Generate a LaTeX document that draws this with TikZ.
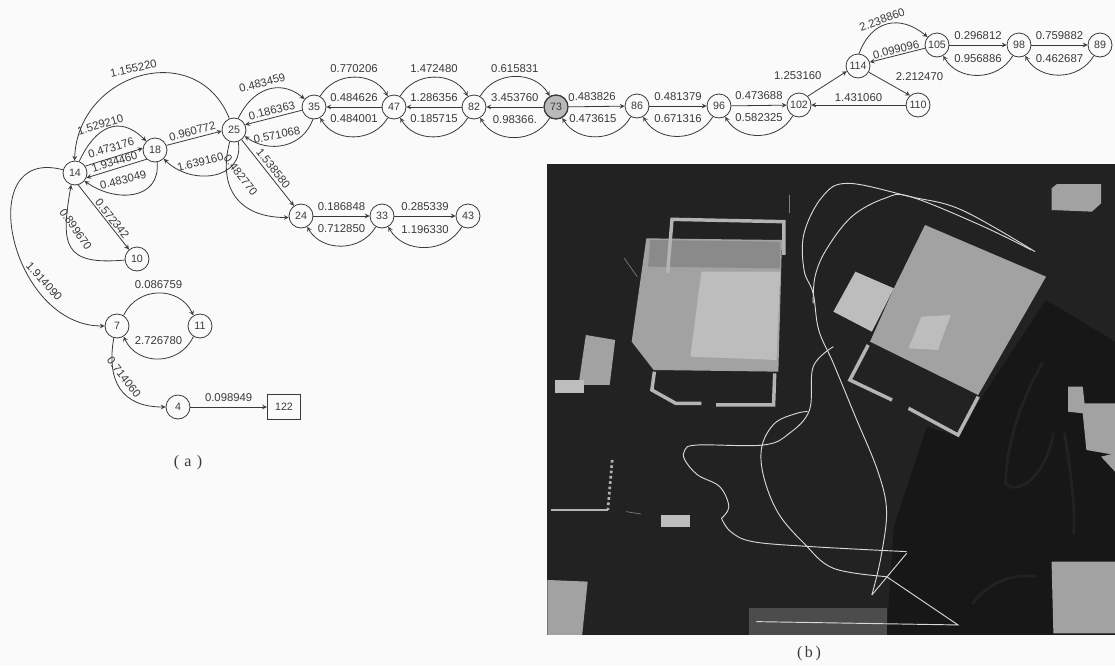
\documentclass[tikz,border=0pt]{standalone}
\usepackage{fontspec}
\usetikzlibrary{positioning}
\setmainfont{Liberation Sans}
\newfontfamily\capfont{Liberation Serif}
\definecolor{paper}{HTML}{FAFAFA}
\definecolor{ink}{HTML}{3A3A3A}
\definecolor{ground}{HTML}{222222}
\definecolor{darkzone}{HTML}{171717}
\definecolor{roof}{HTML}{A2A2A2}
\definecolor{roofhi}{HTML}{BDBDBD}
\definecolor{wallc}{HTML}{B4B4B4}
\definecolor{track}{HTML}{D8D8D8}
\begin{document}
\begin{tikzpicture}[
  x=0.75pt, y=0.75pt,
  v/.style={circle, draw=ink, fill=paper, line width=0.6pt, minimum size=18pt, inner sep=0pt, text=ink, font=\fontsize{8}{9}\selectfont},
  vbox/.style={rectangle, draw=ink, fill=paper, line width=0.6pt, minimum width=25pt, minimum height=19pt, inner sep=0pt, text=ink, font=\fontsize{8}{9}\selectfont},
  e/.style={draw=ink, line width=0.6pt, -stealth},
  lab/.style={text=ink, font=\fontsize{8.5}{9}\selectfont, inner sep=1pt},
  over/.style={lab, sloped, above},
  capt/.style={text=ink, font=\capfont\fontsize{12}{13}\selectfont, inner sep=0pt},
  block/.style={fill=roof, draw=none},
  wall/.style={draw=wallc, line width=2.6pt, line join=miter},
  path2/.style={draw=track, line width=0.7pt, smooth, tension=0.6},
  scratch/.style={draw=gray, line width=0.5pt}
]
  \useasboundingbox (0,0) rectangle (1115,-665);
  \fill[paper] (0,0) rectangle (1115,-665);

  % Graph, left part
  \node[v] (n14) at (75,-173) {14};
  \node[v] (n18) at (155,-150) {18};
  \node[v] (n25) at (234,-130) {25};
  \node[v] (n35) at (314,-107) {35};
  \node[v] (n47) at (394,-107) {47};
  \node[v] (n82) at (474,-107) {82};
  \node[v, fill=gray!55, line width=1pt] (n73) at (556,-107) {73};
  \node[v] (n86) at (637,-106) {86};
  \node[v] (n96) at (719,-106) {96};
  \node[v] (n102) at (799,-105) {102};
  \node[v] (n110) at (918,-105) {110};
  \node[v] (n114) at (858,-66) {114};
  \node[v] (n105) at (937,-45) {105};
  \node[v] (n98) at (1019,-45) {98};
  \node[v] (n89) at (1100,-45) {89};
  \node[v] (n24) at (301,-216) {24};
  \node[v] (n33) at (382,-216) {33};
  \node[v] (n43) at (468,-216) {43};
  \node[v] (n10) at (137,-259) {10};
  \node[v] (n7) at (117,-326) {7};
  \node[v] (n11) at (200,-326) {11};
  \node[v] (n4) at (178,-407) {4};
  \node[vbox] (n122) at (284,-407) {122};

  \draw[e] (n25.112) to[out=112,in=88,looseness=1.4] node[lab, pos=.53, rotate=12, above=3pt] (w1) {1.155220} (n14.92);
  \draw[e] (n14.70) to[out=65,in=135,looseness=1.4] node[lab, pos=.4, rotate=17, above=1pt] (w2) {1.529210} (n18.135);
  \draw[e] (n14.34) -- node[over, above=3pt] (w3) {0.473176} (n18.172);
  \draw[e] (n18.228) -- node[over, above=1pt] (w4) {1.934460} (n14.-23);
  \draw[e] (n18.-80) to[out=-85,in=-35,looseness=1.3] node[lab, pos=.6, rotate=14, above=7pt] (w5) {0.483049} (n14.-40);
  \draw[e] (n18.22) -- node[over, above=1pt] (w6) {0.960772} (n25.185);
  \draw[e] (n25.-70) to[out=-80,in=-45,looseness=1.3] node[lab, pos=.62, rotate=14, above=6pt] (w7) {1.639160} (n18.-45);
  \draw[e] (n25.70) to[out=65,in=140,looseness=1.2] node[lab, pos=.45, rotate=15, above=2pt] (w8) {0.483459} (n35.140);
  \draw[e] (n35.195) -- node[over, above=1pt] (w9) {0.186363} (n25.25);
  \draw[e] (n35.-95) to[out=-110,in=-35,looseness=1.1] node[lab, pos=.58, rotate=12, above=4pt] (w10) {0.571068} (n25.-30);
  \draw[e] (n25.-52) -- node[over, above=1pt] (w11) {1.538580} (n24.125);
  \draw[e] (n25.-110) to[out=-105,in=180,looseness=1.3] node[lab, pos=.5, rotate=-52, above=14pt] (w12) {0.482770} (n24.187);
  \draw[e] (n14.-75) -- node[over, pos=.58] (w13) {0.572342} (n10.130);
  \draw[e] (n10.185) to[out=185,in=-100,looseness=1.7] node[lab, pos=.5, rotate=-55, above=11pt] (w14) {0.899670} (n14.-108);
  \draw[e] (n14.165) to[out=165,in=180,looseness=1.5] node[lab, pos=.72, rotate=-48, above=5pt] (w15) {1.914090} (n7.180);
  \draw[e] (n7.58) to[bend left=65, looseness=1.2] node[over, above=2pt] (w16) {0.086759} (n11.122);
  \draw[e] (n11.-122) to[bend left=65, looseness=1.2] node[over, above=9pt] (w17) {2.726780} (n7.-58);
  \draw[e] (n7.-105) to[out=-100,in=180,looseness=1.3] node[lab, pos=.48, rotate=-52, above=5pt] (w18) {0.714060} (n4.180);
  \draw[e] (n4) -- node[over, above=3pt] (w19) {0.098949} (n122);

  % Graph, chain along the top
  \draw[e] (n35.60) to[bend left=60, looseness=1.1] node[over, above=2pt] (w20) {0.770206} (n47.120);
  \draw[e] (n47) -- node[over, above=3pt] (w21) {0.484626} (n35);
  \draw[e] (n47.-120) to[bend left=60, looseness=1.1] node[over, above=9pt] (w22) {0.484001} (n35.-60);
  \draw[e] (n47.60) to[bend left=60, looseness=1.1] node[over, above=2pt] (w23) {1.472480} (n82.120);
  \draw[e] (n82) -- node[over, above=3pt] (w24) {1.286356} (n47);
  \draw[e] (n82.-120) to[bend left=60, looseness=1.1] node[over, above=9pt] (w25) {0.185715} (n47.-60);
  \draw[e] (n82.60) to[bend left=60, looseness=1.1] node[over, above=2pt] (w26) {0.615831} (n73.120);
  \draw[e] (n73) -- node[over, above=3pt] (w27) {3.453760} (n82);
  \draw[e] (n73.-120) to[bend left=60, looseness=1.1] node[over, above=9pt] (w28) {0.98366.} (n82.-60);
  \draw[e] (n73) -- node[over, pos=.42, above=3pt] (w29) {0.483826} (n86);
  \draw[e] (n86.-120) to[bend left=60, looseness=1.1] node[lab, pos=.55, above=9pt] (w30) {0.473615} (n73.-60);
  \draw[e] (n86) -- node[over, above=3pt] (w31) {0.481379} (n96);
  \draw[e] (n96.-120) to[bend left=60, looseness=1.1] node[over, above=9pt] (w32) {0.671316} (n86.-60);
  \draw[e] (n96) -- node[over, above=3pt] (w33) {0.473688} (n102);
  \draw[e] (n102.-120) to[bend left=60, looseness=1.1] node[over, above=9pt] (w34) {0.582325} (n96.-60);
  \draw[e] (n102.45) -- node[lab, pos=.6, above left=0pt and 6pt] (w35) {1.253160} (n114.205);
  \draw[e] (n114.-30) -- node[lab, pos=.55, above right=2pt and 2pt] (w36) {2.212470} (n110.130);
  \draw[e] (n110) -- node[over, above=1pt] (w37) {1.431060} (n102);
  \draw[e] (n114.85) to[out=70,in=140,looseness=1.3] node[over, pos=.45] (w38) {2.238860} (n105.140);
  \draw[e] (n105.195) -- node[over] (w39) {0.099096} (n114.18);
  \draw[e] (n105) -- node[over, above=3pt] (w40) {0.296812} (n98);
  \draw[e] (n98.-120) to[bend left=60, looseness=1.1] node[over, above=8pt] (w41) {0.956886} (n105.-60);
  \draw[e] (n98) -- node[over, above=3pt] (w42) {0.759882} (n89);
  \draw[e] (n89.-120) to[bend left=60, looseness=1.1] node[over, above=8pt] (w43) {0.462687} (n98.-60);
  \draw[e] (n24) -- node[over, above=3pt] (w44) {0.186848} (n33);
  \draw[e] (n33.-120) to[bend left=60, looseness=1.1] node[over, above=9pt] (w45) {0.712850} (n24.-60);
  \draw[e] (n33) -- node[over, above=3pt] (w46) {0.285339} (n43);
  \draw[e] (n43.-120) to[bend left=60, looseness=1.1] node[over, above=9pt] (w47) {1.196330} (n33.-60);

  \node[capt] (capa) at (188,-463) {(\,\,a\,\,)};
  \node[capt] (capb) at (809,-654) {(\,b\,)};

  % Aerial view (b), numbers read off the crop
  \begin{scope}[shift={(540,-160)}, xscale=0.3667, yscale=-0.3333]
    \fill[ground] (18,12) rectangle (1568,1425);
    \fill[darkzone] (1055,800) -- (965,1100) -- (945,1425) -- (1568,1425) -- (1568,545) -- (1380,420) -- (1200,720) -- (1140,830) -- cycle;
    % marks showing through from the back of the page
    \draw[ground, line width=2pt, line cap=round] (1370,610) .. controls (1290,760) and (1270,900) .. (1270,970) .. controls (1300,1010) and (1380,950) .. (1400,820);
    \draw[ground, line width=2pt, line cap=round] (1430,820) .. controls (1450,950) and (1460,1050) .. (1455,1120);
    \draw[ground, line width=2pt, line cap=round] (1180,1330) .. controls (1230,1260) and (1300,1240) .. (1350,1250);
    \fill[block] (290,235) -- (660,240) -- (650,635) -- (310,630) -- (250,545) -- cycle;
    \fill[roofhi] (440,335) -- (655,335) -- (645,600) -- (410,590) -- cycle;
    \fill[roof!85!black] (300,240) -- (655,245) -- (655,325) -- (295,320) -- cycle;
    \draw[wall] (348,340) -- (360,178) -- (665,185) -- (665,285);
    \draw[wall] (312,635) -- (305,690) -- (370,730) -- (440,730);
    \draw[wall] (480,735) -- (637,735) -- (640,640);
    \fill[block] (1050,195) -- (1380,350) -- (1195,705) -- (900,545) -- (965,385) -- cycle;
    \fill[roofhi] (1040,470) -- (1120,465) -- (1085,570) -- (1005,565) -- cycle;
    \fill[roofhi] (860,335) -- (965,385) -- (905,515) -- (800,455) -- cycle;
    \draw[wall] (895,555) -- (845,660) -- (960,720);
    \draw[wall] (1005,745) -- (1140,825) -- (1195,710);
    \fill[block] (1395,85) -- (1410,72) -- (1530,72) -- (1530,130) -- (1505,155) -- (1395,150) -- cycle;
    \fill[block] (125,525) -- (205,540) -- (190,675) -- (105,675) -- cycle;
    \fill[roofhi] (40,660) -- (120,660) -- (120,700) -- (40,700) -- cycle;
    \fill[roofhi] (330,1065) -- (410,1065) -- (410,1100) -- (330,1100) -- cycle;
    \fill[block] (20,1260) -- (130,1265) -- (115,1425) -- (20,1425) -- cycle;
    \fill[gray!60!black] (570,1345) -- (945,1345) -- (945,1425) -- (570,1425) -- cycle;
    \fill[roof] (1395,1205) -- (1568,1205) -- (1568,1420) -- (1400,1420) -- cycle;
    \fill[roof] (1440,680) -- (1480,680) -- (1485,730) -- (1568,730) -- (1568,885) -- (1490,870) -- (1480,760) -- (1440,755) -- cycle;
    \fill[roof] (1530,890) -- (1568,880) -- (1568,935) -- cycle;
    \draw[draw=wallc, line width=2pt, dotted] (197,900) -- (185,1050);
    \draw[draw=wallc, line width=1pt] (185,1050) -- (30,1050);
    \draw[scratch] (230,295) -- (265,350);
    \draw[scratch] (680,105) -- (680,160);
    \draw[scratch] (235,1055) -- (275,1062);
    % tracks
    \draw[path2] plot coordinates {(1350,275) (1150,150) (1010,110) (840,70) (770,110) (720,220) (720,330) (745,400) (760,510) (800,610) (860,770) (920,930) (945,1050) (930,1190) (905,1305)};
    \draw[path2] plot coordinates {(1340,270) (1200,195) (1010,110) (940,115) (850,170) (780,270) (750,350) (745,430)};
    \draw[path2] plot coordinates {(495,1075) (515,1040) (490,980) (430,945) (395,900) (395,870) (430,855) (610,855) (680,820) (735,750) (745,620) (800,560)};
    \draw[path2] plot coordinates {(1000,1175) (740,1160) (580,1145) (520,1115) (495,1075)};
    \draw[path2] plot coordinates {(945,1250) (800,1225) (720,1150) (650,1060) (610,950) (605,860) (640,790) (700,760) (730,755)};
    \draw[draw=track, line width=0.7pt] (905,1305) -- (1000,1180);
    \draw[draw=track, line width=0.7pt] (945,1250) -- (1140,1395) -- (590,1385);
  \end{scope}
\end{tikzpicture}
\end{document}
